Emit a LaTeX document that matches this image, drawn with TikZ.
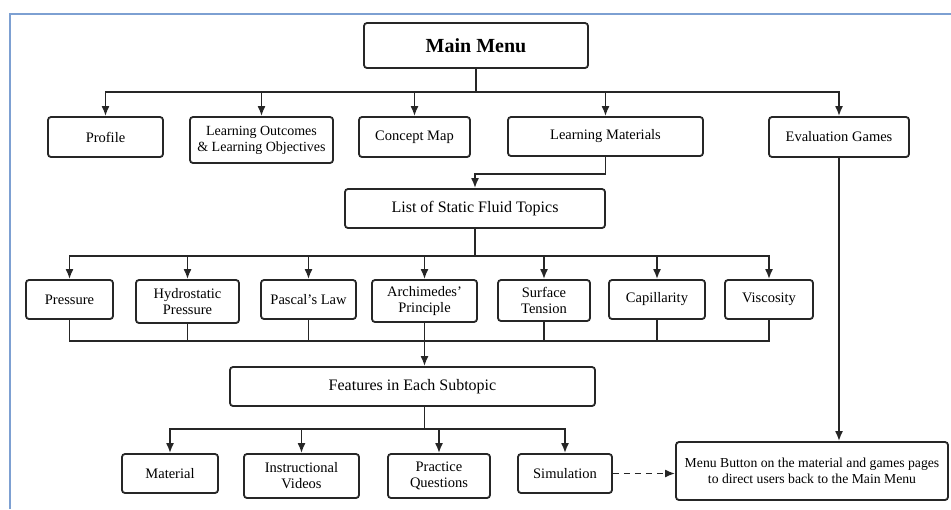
\documentclass[tikz,border=0pt]{standalone}
\usepackage{fontspec}
\setmainfont{Liberation Serif}
\usetikzlibrary{arrows.meta, positioning, calc}

\definecolor{frameblue}{RGB}{125,160,210}

\begin{document}
\begin{tikzpicture}[
    x=1pt, y=-1pt,
    menubox/.style={draw=black!85, line width=1.8pt, rounded corners=3pt, fill=white, align=center, inner sep=2pt, text=black, font=\fontsize{14.5}{16}\selectfont},
    bigbox/.style={menubox, font=\fontsize{16}{18}\selectfont},
    link/.style={draw=black!85, line width=1.8pt},
    arr/.style={link, -{Latex[length=10pt,width=8pt]}}
]
    \useasboundingbox (0,0) rectangle (951,509);
    \fill[white] (0,0) rectangle (951,509);
    \draw[frameblue, line width=2pt] (10,509) -- (10,14) -- (951,14);

    % Main menu
    \node[menubox, minimum width=224pt, minimum height=45pt, font=\fontsize{20}{23}\selectfont\bfseries] (main) at (476,45.5) {Main Menu};

    % First level
    \node[menubox, minimum width=115pt, minimum height=40pt] (profile) at (105.5,137) {Profile};
    \node[menubox, minimum width=143pt, minimum height=46pt, font=\fontsize{14}{16}\selectfont] (outcomes) at (261.5,140) {Learning Outcomes\\ \& Learning Objectives};
    \node[menubox, minimum width=111pt, minimum height=40pt] (cmap) at (414.5,137) {Concept Map};
    \node[menubox, minimum width=195pt, minimum height=39pt] (lmat) at (605.5,136.5) {Learning Materials};
    \node[menubox, minimum width=140pt, minimum height=40pt] (evgames) at (839,137) {Evaluation Games};

    \coordinate (bus1) at (476,92);
    \draw[link] (main.south) -- (bus1);
    \foreach \n in {profile, outcomes, cmap, lmat, evgames}
        \draw[arr] (bus1) -| (\n.north);

    % Topics
    \node[bigbox, minimum width=260pt, minimum height=39pt] (topics) at (475,208.5) {List of Static Fluid Topics};
    \draw[arr] (lmat.south) -- ++(0,17) -| (topics.north);

    \node[menubox, minimum width=87pt, minimum height=39pt] (pressure) at (69.5,299.5) {Pressure};
    \node[menubox, minimum width=103pt, minimum height=43pt] (hydro) at (187.5,301.5) {Hydrostatic\\Pressure};
    \node[menubox, minimum width=95pt, minimum height=39pt] (pascal) at (308.5,299.5) {Pascal's Law};
    \node[menubox, minimum width=105pt, minimum height=42pt] (archi) at (424.5,301) {Archimedes'\\Principle};
    \node[menubox, minimum width=92pt, minimum height=41pt] (surface) at (544,300.5) {Surface\\Tension};
    \node[menubox, minimum width=96pt, minimum height=39pt] (capil) at (657,299.5) {Capillarity};
    \node[menubox, minimum width=88pt, minimum height=39pt] (visco) at (769,299.5) {Viscosity};

    \coordinate (bus2) at (475,256);
    \draw[link] (topics.south) -- (bus2);
    \foreach \n in {pressure, hydro, pascal, archi, surface, capil, visco}
        \draw[arr] (bus2) -| (\n.north);

    % Features
    \node[bigbox, minimum width=365pt, minimum height=39pt] (features) at (412.5,386.5) {Features in Each Subtopic};

    \coordinate (join) at (424.5,341);
    \foreach \n in {pressure, hydro, pascal, archi, surface, capil, visco}
        \draw[link] (\n.south) |- (join);
    \draw[arr] (join) -- (join |- features.north);

    \node[menubox, minimum width=96pt, minimum height=39pt] (material) at (170,473.5) {Material};
    \node[menubox, minimum width=115pt, minimum height=44pt] (videos) at (301.5,476) {Instructional\\Videos};
    \node[menubox, minimum width=102pt, minimum height=44pt] (practice) at (439,476) {Practice\\Questions};
    \node[menubox, minimum width=94pt, minimum height=39pt] (sim) at (565,473.5) {Simulation};

    \coordinate (bus3) at (424.5,429);
    \draw[link] (join |- features.south) -- (bus3);
    \foreach \n in {material, videos, practice, sim}
        \draw[arr] (bus3) -| (\n.north);

    % Back to main menu
    \node[menubox, minimum width=272pt, minimum height=58pt, font=\fontsize{13.7}{16}\selectfont] (menubtn) at (812,471) {Menu Button on the material and games pages\\to direct users back to the Main Menu};
    \draw[arr] (evgames.south) -- (evgames.south |- menubtn.north);
    \draw[arr, dashed, dash pattern=on 6pt off 5pt] (sim.east) -- (sim.east -| menubtn.west);
\end{tikzpicture}
\end{document}
